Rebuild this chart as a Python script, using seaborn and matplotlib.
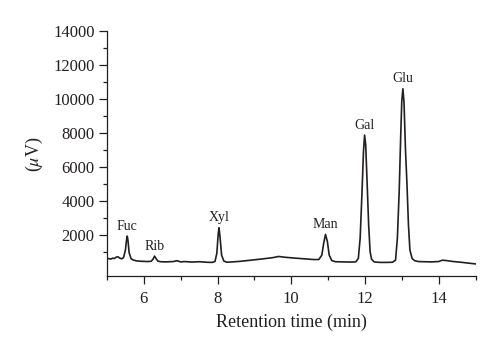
# Chromatogram of monosaccharide standards (retention time vs detector signal)

import numpy as np
import pandas as pd
import matplotlib
matplotlib.use("Agg")
import matplotlib.pyplot as plt
from matplotlib.ticker import FixedLocator, MultipleLocator
import seaborn as sns

# trace: time (min) and signal (uV)
time = [5.0, 5.05, 5.1, 5.15, 5.2, 5.25, 5.3, 5.35, 5.4, 5.45, 5.5, 5.53, 5.55,
        5.57, 5.6, 5.65, 5.7, 5.8, 5.9, 6.0, 6.1, 6.2, 6.25, 6.29, 6.33, 6.38,
        6.45, 6.6, 6.8, 6.9, 7.0, 7.1, 7.3, 7.5, 7.7, 7.85, 7.93, 7.98, 8.02,
        8.04, 8.07, 8.11, 8.17, 8.25, 8.4, 8.6, 8.9, 9.2, 9.5, 9.66, 9.8, 10.0,
        10.3, 10.6, 10.75, 10.83, 10.88, 10.93, 10.98, 11.03, 11.1, 11.2, 11.4,
        11.6, 11.75, 11.82, 11.87, 11.92, 11.96, 11.99, 12.02, 12.06, 12.1,
        12.14, 12.18, 12.25, 12.4, 12.6, 12.75, 12.83, 12.88, 12.93, 12.97,
        13.0, 13.03, 13.06, 13.1, 13.14, 13.18, 13.22, 13.28, 13.35, 13.45,
        13.6, 13.8, 14.0, 14.1, 14.2, 14.4, 14.6, 14.8, 15.0]
signal = [580, 600, 560, 620, 600, 680, 700, 620, 580, 660, 1100, 1700, 1920,
          1650, 950, 600, 520, 460, 440, 430, 420, 440, 560, 740, 600, 450,
          410, 400, 420, 470, 400, 420, 390, 410, 380, 370, 420, 900, 2100,
          2410, 1800, 800, 450, 380, 400, 430, 500, 570, 650, 720, 680, 640,
          590, 540, 540, 800, 1500, 2020, 1600, 800, 480, 410, 400,
          390, 400, 600, 1800, 4500, 6900, 7870, 7300, 5000, 2600,
          1000, 550, 400, 370, 370, 380, 500, 1800, 4600, 7800,
          9900, 10600, 9800, 7000, 5000, 2600, 1100, 600, 470, 420,
          410, 400, 420, 500, 480, 420, 380, 330, 280]

# peak labels
peak_names = ["Fuc", "Rib", "Xyl", "Man", "Gal", "Glu"]
peak_times = [5.55, 6.29, 8.04, 10.93, 11.99, 13.03]
peak_heights = [1920, 740, 2410, 2020, 7870, 10600]

xticks = [6, 8, 10, 12, 14]
yticks = [2000, 4000, 6000, 8000, 10000, 12000, 14000]

df = pd.DataFrame({"time": time, "signal": signal})

sns.set_style("ticks")
plt.rcParams["font.family"] = ["Liberation Serif", "DejaVu Serif"]
plt.rcParams["mathtext.fontset"] = "stix"
ink = "#231f20"

fig = plt.figure(figsize=(5.0, 3.57), dpi=100)
ax = fig.add_axes([0.214, 0.226, 0.737, 0.687])

sns.lineplot(data=df, x="time", y="signal", sort=False, estimator=None,
             color=ink, linewidth=1.2, ax=ax)

for name, t, h in zip(peak_names, peak_times, peak_heights):
    ax.annotate(name, xy=(t, h), xytext=(0, 2.5), textcoords="offset points",
                ha="center", va="bottom", fontsize=10, color=ink)

ax.set_xlim(5, 15)
ax.set_ylim(-450, 14000)
ax.xaxis.set_major_locator(FixedLocator(xticks))
ax.xaxis.set_minor_locator(MultipleLocator(1))
ax.yaxis.set_major_locator(FixedLocator(yticks))
ax.yaxis.set_minor_locator(FixedLocator(np.arange(1000, 14000, 2000)))
ax.tick_params(which="major", length=5.5, width=0.9, labelsize=12,
               direction="out", color=ink, labelcolor=ink)
ax.tick_params(axis="x", which="major", pad=5)
ax.tick_params(which="minor", length=3, width=0.9, direction="out", color=ink)

ax.set_xlabel("Retention time (min)", fontsize=13, color=ink, labelpad=5)
ax.set_ylabel(r"($\mu$V)", fontsize=13, color=ink, labelpad=6)

sns.despine(ax=ax)
for s in ["left", "bottom"]:
    ax.spines[s].set_linewidth(0.9)
    ax.spines[s].set_color(ink)

fig.savefig("out.png", dpi=100)
